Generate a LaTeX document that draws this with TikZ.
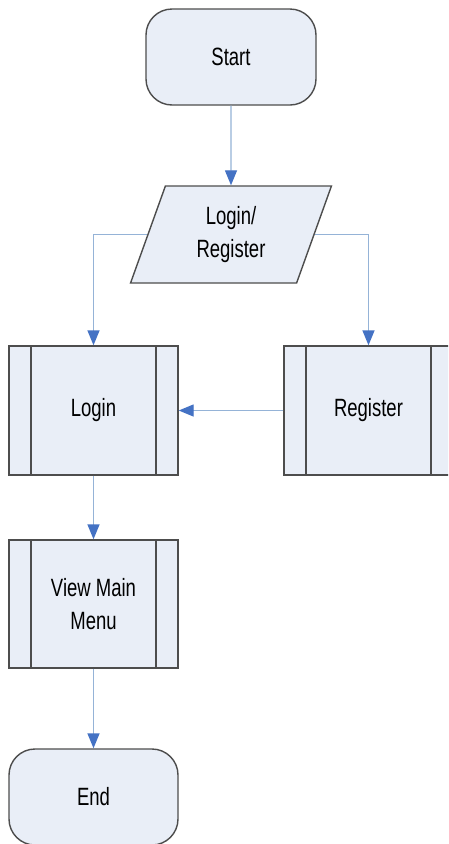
\documentclass[tikz,border=0pt]{standalone}
\usepackage{fontspec}
\setmainfont{Liberation Sans}[FakeStretch=0.74]
\usepackage{tikz}
\usetikzlibrary{arrows.meta}
\usetikzlibrary{shapes,calc}
\definecolor{boxfill}{HTML}{E9EEF7}
\definecolor{boxline}{HTML}{4D4D4D}
\definecolor{linkline}{HTML}{95B3D7}
\definecolor{linktip}{HTML}{4472C4}
\tikzstyle{base} = [draw=boxline, fill=boxfill, line width=1.4pt, align=center, inner sep=0pt, font=\fontsize{25}{33}\selectfont]
\tikzstyle{term} = [base, rectangle, rounded corners=26pt, minimum width=170pt, minimum height=96pt]
\tikzstyle{io} = [base, trapezium, trapezium left angle=72, trapezium right angle=108, trapezium stretches=true, minimum width=201pt, minimum height=97pt]
\tikzstyle{proc} = [base, rectangle, minimum width=169pt, minimum height=129pt, path picture={
	\draw[boxline, line width=1.4pt] ($(path picture bounding box.north west)+(22pt,0)$) -- ($(path picture bounding box.south west)+(22pt,0)$);
	\draw[boxline, line width=1.4pt] ($(path picture bounding box.north east)+(-22pt,0)$) -- ($(path picture bounding box.south east)+(-22pt,0)$);}]
\tikzstyle{link} = [draw=linkline, line width=1.4pt, -{Triangle[length=15pt, width=12pt, color=linktip]}]

\begin{document}
\begin{tikzpicture}[x=1pt, y=1pt]
	\clip (0,0) rectangle (448,-844);
	\fill[white] (0,0) rectangle (448,-844);

	\node[term] (start) at (231,-57) {Start};
	\node[io] (lr) at (231,-234.5) {Login/\\Register};
	\node[proc] (login) at (93.5,-410.5) {Login};
	\node[proc] (register) at (368.5,-410.5) {Register};
	\node[proc, minimum height=128pt] (menu) at (93.5,-604) {View Main\\Menu};
	\node[term, minimum width=169pt] (end) at (93.5,-797) {End};

	\draw[link] (start) -- (lr);
	\draw[link] (lr.west) -| (login.north);
	\draw[link] (lr.east) -| (register.north);
	\draw[link] (register.west) -- (login.east);
	\draw[link] (login) -- (menu);
	\draw[link] (menu) -- (end);
\end{tikzpicture}
\end{document}
